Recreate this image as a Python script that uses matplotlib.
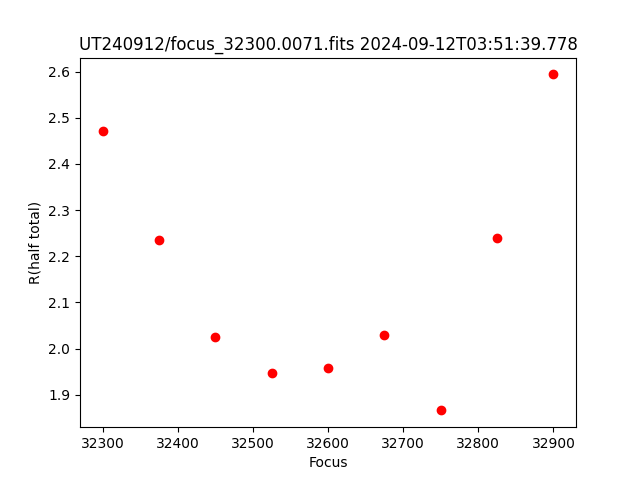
import matplotlib
matplotlib.use("Agg")
import matplotlib.pyplot as plt

focus = [32300, 32375, 32450, 32525, 32600, 32675, 32750, 32825, 32900]
r_half = [2.472, 2.236, 2.026, 1.946, 1.957, 2.030, 1.866, 2.240, 2.594]

plt.figure(figsize=(6.4, 4.8), dpi=100)
plt.plot(focus, r_half, "o", color="red")
plt.xlabel("Focus")
plt.ylabel("R(half total)")
plt.title("UT240912/focus_32300.0071.fits 2024-09-12T03:51:39.778")
plt.savefig("out.png")
